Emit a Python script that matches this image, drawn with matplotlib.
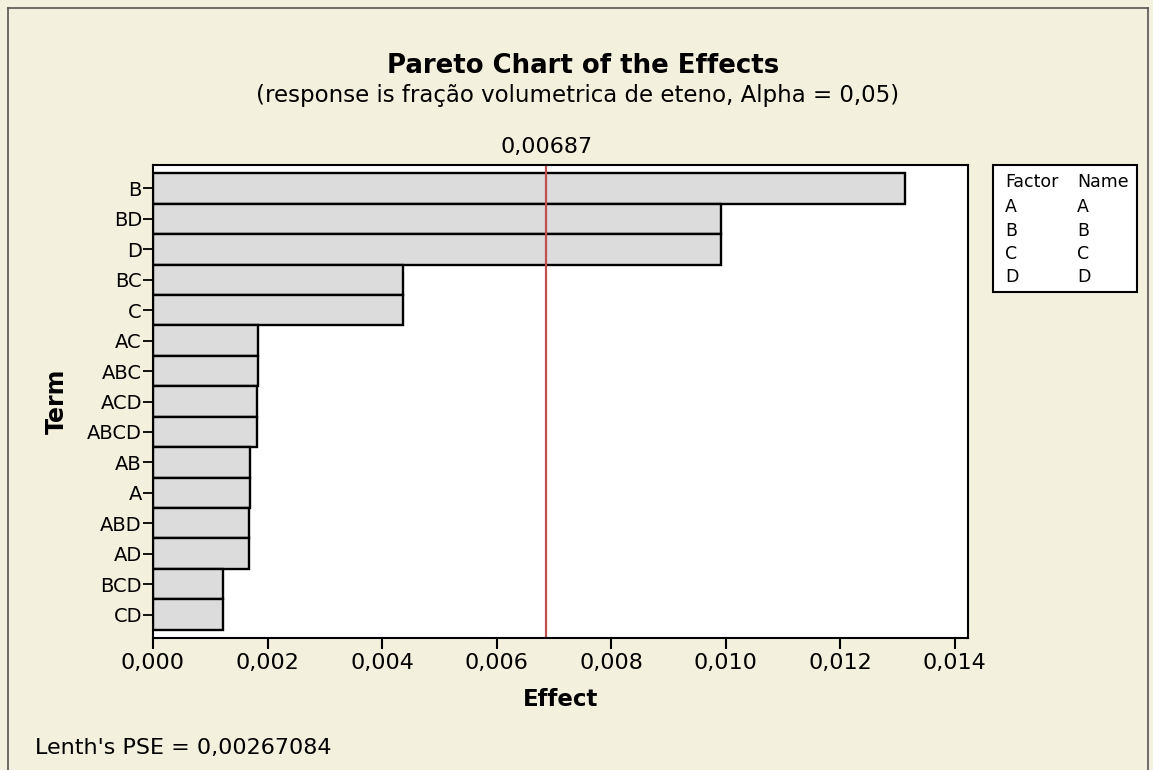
import matplotlib.pyplot as plt
from matplotlib.patches import Rectangle
from matplotlib.lines import Line2D
from matplotlib.ticker import FuncFormatter

# ── Data ─────────────────────────────────────────────────────────────────────
terms   = ["B", "BD", "D", "BC", "C", "AC", "ABC", "ACD", "ABCD",
           "AB", "A", "ABD", "AD", "BCD", "CD"]
effects = [0.01313, 0.00992, 0.00992, 0.00436, 0.00436, 0.00184, 0.00183,
           0.00181, 0.00181, 0.00170, 0.00170, 0.00167, 0.00167, 0.00122, 0.00122]
x_ticks = [0.000, 0.002, 0.004, 0.006, 0.008, 0.010, 0.012, 0.014]
crit    = 0.00687
pse     = "0,00267084"
factors = ["A", "B", "C", "D"]
names   = ["A", "B", "C", "D"]

plt.rcParams['font.family'] = ['DejaVu Sans']
bg = "#f4f0de"
W, H = 1153, 770

fig = plt.figure(figsize=(W / 100, H / 100), dpi=100, facecolor=bg)
ax = fig.add_axes([153 / W, 1 - 638 / H, 815 / W, 473 / H])
ax.set_facecolor("white")

y = list(range(len(terms)))
ax.barh(y, effects, height=1.0, color="#dcdcdc", edgecolor="black", linewidth=1.7)
ax.axvline(crit, color="#c0504d", lw=1.6)

ax.set_xlim(0, 0.01423)
ax.set_ylim(len(terms) - 0.5 + 0.27, -0.5 - 0.27)
ax.set_yticks(y)
ax.set_yticklabels(terms, fontsize=14)
ax.set_xticks(x_ticks)
ax.xaxis.set_major_formatter(FuncFormatter(lambda v, p: f"{v:.3f}".replace(".", ",")))
ax.tick_params(axis="x", labelsize=16, length=8, width=1.5, direction="out", pad=3)
ax.tick_params(axis="y", length=7, width=1.3, direction="out", pad=1)
for s in ax.spines.values():
    s.set_linewidth(1.5)

ax.set_xlabel("Effect", fontsize=16.5, fontweight="bold")
ax.xaxis.label.set_va("center")
ax.xaxis.set_label_coords(0.5, -62 / 473)
ax.set_ylabel("Term", fontsize=17, fontweight="bold")
ax.yaxis.label.set_va("center")
ax.yaxis.set_label_coords(-96 / 815, 0.5)

# critical value label above the plot
ax.text(crit, 1 + 12 / 473, "0,00687", transform=ax.get_xaxis_transform(),
        ha="center", va="baseline", fontsize=16)

fig.text(583 / W, 1 - 73 / H, "Pareto Chart of the Effects", ha="center",
         va="baseline", fontsize=18.7, fontweight="bold")
fig.text(578 / W, 1 - 102 / H, "(response is fração volumetrica de eteno, Alpha = 0,05)",
         ha="center", va="baseline", fontsize=16.5)
fig.text(35 / W, 1 - 754 / H, "Lenth's PSE = " + pse, ha="left", va="baseline",
         fontsize=16)

# factor / name table on the right
fig.patches.append(Rectangle((993 / W, 1 - 292 / H), 144 / W, 127 / H,
                             transform=fig.transFigure, facecolor="white",
                             edgecolor="black", lw=1.5))
fig.text(1005 / W, 1 - 182 / H, "Factor", fontsize=12.5, va="center")
fig.text(1077 / W, 1 - 182 / H, "Name", fontsize=12.5, va="center")
for i, (f, n) in enumerate(zip(factors, names)):
    yy = 1 - (207 + i * 23.5) / H
    fig.text(1005 / W, yy, f, fontsize=12.5, va="center")
    fig.text(1077 / W, yy, n, fontsize=12.5, va="center")

# thin frame around the graph (left, top, right)
for xs, ys in [([8, 8], [770, 8]), ([8, 1148], [8, 8]), ([1148, 1148], [8, 770])]:
    fig.add_artist(Line2D([v / W for v in xs], [1 - v / H for v in ys],
                          transform=fig.transFigure, color="#555555", lw=1.2))

fig.savefig("out.png", dpi=100, facecolor=bg)
